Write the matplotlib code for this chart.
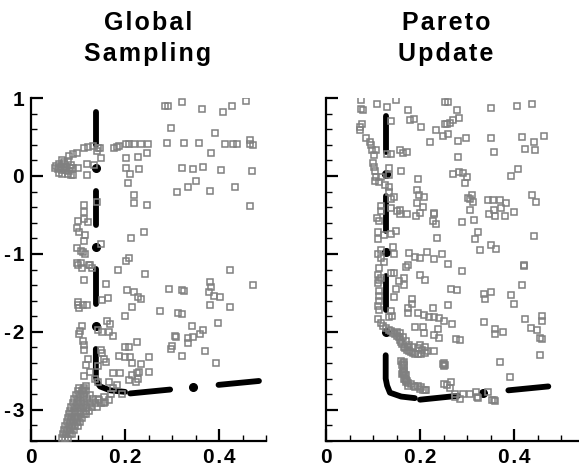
import matplotlib
matplotlib.use("Agg")
import matplotlib.pyplot as plt
from matplotlib.ticker import MultipleLocator, FixedLocator

# ---------------- data ----------------
# Left panel: Global Sampling, gray sampled points
gs_x = [0.112, 0.122, 0.132, 0.142, 0.147, 0.140, 0.149, 0.098, 0.089, 0.080, 0.078, 0.067, 0.071, 0.060, 0.053,
        0.050, 0.057, 0.064, 0.071, 0.074, 0.060, 0.067, 0.078, 0.085, 0.089, 0.082, 0.099, 0.119, 0.133, 0.119,
        0.070, 0.075, 0.065, 0.080, 0.090, 0.060, 0.085,
        0.177, 0.183, 0.188, 0.202, 0.209, 0.220, 0.233, 0.248, 0.247, 0.202, 0.227, 0.202, 0.230, 0.211, 0.206,
        0.220, 0.220, 0.247, 0.112, 0.112, 0.112, 0.099, 0.122, 0.140, 0.098, 0.103, 0.115, 0.113, 0.213, 0.241,
        0.148, 0.098, 0.106, 0.110, 0.115, 0.098, 0.106, 0.126, 0.202, 0.209,
        0.285, 0.292, 0.322, 0.364, 0.409, 0.427, 0.457, 0.297, 0.392, 0.290, 0.326, 0.358, 0.413, 0.429, 0.439,
        0.465, 0.465, 0.473, 0.383, 0.322, 0.344, 0.367, 0.405, 0.470, 0.351, 0.333, 0.311, 0.380, 0.434, 0.467,
        0.099, 0.108, 0.124, 0.129, 0.113, 0.186, 0.160, 0.243, 0.204, 0.220, 0.228, 0.234, 0.215, 0.101, 0.101,
        0.103, 0.110, 0.119, 0.150, 0.163, 0.199, 0.162, 0.168, 0.109, 0.105, 0.103, 0.142, 0.150, 0.165, 0.174,
        0.111, 0.113, 0.113, 0.149, 0.151, 0.199, 0.209, 0.226, 0.188, 0.199, 0.211, 0.250, 0.122, 0.155, 0.160,
        0.117, 0.142, 0.214, 0.234, 0.126, 0.113, 0.174, 0.190, 0.215, 0.226, 0.230, 0.250, 0.137, 0.142, 0.165,
        0.209, 0.223, 0.227, 0.116, 0.110, 0.175, 0.183, 0.193,
        0.066, 0.072, 0.078, 0.068, 0.075, 0.082, 0.088, 0.071, 0.077, 0.084, 0.091, 0.073, 0.080, 0.087, 0.094,
        0.099, 0.076, 0.083, 0.090, 0.097, 0.104, 0.078, 0.086, 0.093, 0.100, 0.108, 0.081, 0.088, 0.096, 0.104,
        0.112, 0.118, 0.083, 0.091, 0.099, 0.107, 0.116, 0.124, 0.086, 0.094, 0.103, 0.111, 0.120, 0.130, 0.140,
        0.089, 0.097, 0.106, 0.115, 0.125, 0.136, 0.148, 0.155, 0.092, 0.100, 0.110, 0.120, 0.131, 0.142, 0.095,
        0.104, 0.113, 0.125, 0.099, 0.108, 0.118, 0.102, 0.112, 0.145, 0.158, 0.165, 0.155, 0.170,
        0.423, 0.294, 0.321, 0.326, 0.381, 0.382, 0.378, 0.389, 0.403, 0.472, 0.275, 0.312, 0.322, 0.380, 0.424,
        0.343, 0.365, 0.360, 0.307, 0.309, 0.335, 0.345, 0.333, 0.301, 0.297, 0.322, 0.370, 0.398, 0.394]
gs_y = [0.361, 0.370, 0.378, 0.361, 0.361, 0.318, 0.232, 0.292, 0.284, 0.262, 0.198, 0.211, 0.181, 0.155, 0.125,
        0.103, 0.090, 0.112, 0.103, 0.082, 0.039, 0.026, 0.026, 0.017, 0.009, 0.103, 0.103, 0.155, 0.138, 0.017,
        0.150, 0.120, 0.080, 0.060, 0.100, 0.100, 0.140,
        0.361, 0.370, 0.378, 0.404, 0.404, 0.404, 0.413, 0.404, 0.297, 0.224, 0.241, 0.103, 0.090, 0.026, -0.090,
        -0.241, -0.353, -0.370, -0.370, -0.465, -0.551, -0.576, -0.585, -0.335, -0.671, -0.714, -0.757, -0.830,
        -0.800, -0.723, -0.877, -0.929, -0.963, -0.981, -1.002, -1.123, -1.114, -1.144, -1.092, -1.058,
        0.899, 0.899, 0.951, 0.865, 0.822, 0.899, 0.963, 0.615, 0.555, 0.422, 0.422, 0.422, 0.404, 0.413, 0.404,
        0.456, 0.404, 0.396, 0.297, 0.108, 0.090, 0.120, 0.077, 0.069, -0.060, -0.138, -0.202, -0.198, -0.146,
        -0.383,
        -1.148, -1.178, -1.148, -1.187, -1.329, -1.209, -1.385, -1.264, -1.467, -1.488, -1.553, -1.583, -1.682,
        -1.617, -1.660, -1.695, -1.652, -1.652, -1.595, -1.566, -1.794, -1.867, -1.901, -1.931, -1.987, -2.026,
        -1.974, -1.996, -1.996, -2.047, -2.116, -2.168, -2.232, -2.232, -2.275, -2.189, -2.198, -2.125, -2.310,
        -2.318, -2.323, -2.323, -2.348, -2.353, -2.383, -2.426, -2.434, -2.404, -2.413, -2.520, -2.568, -2.533,
        -2.533, -2.555, -2.533, -2.512, -2.512, -2.606, -2.641, -2.641, -2.619, -2.641, -2.611, -2.693, -2.748,
        -2.714, -2.688, -2.800,
        -3.36, -3.36, -3.36, -3.31, -3.31, -3.31, -3.31, -3.26, -3.26, -3.26, -3.26, -3.21, -3.21, -3.21, -3.21,
        -3.21, -3.16, -3.16, -3.16, -3.16, -3.16, -3.11, -3.11, -3.11, -3.11, -3.11, -3.06, -3.06, -3.06, -3.06,
        -3.06, -3.06, -3.01, -3.01, -3.01, -3.01, -3.01, -3.01, -2.96, -2.96, -2.96, -2.96, -2.96, -2.96, -2.96,
        -2.91, -2.91, -2.91, -2.91, -2.91, -2.91, -2.91, -2.91, -2.86, -2.86, -2.86, -2.86, -2.86, -2.86, -2.81,
        -2.81, -2.81, -2.81, -2.76, -2.76, -2.76, -2.72, -2.72, -2.88, -2.90, -2.87, -2.84, -2.80,
        -1.209, -1.449, -1.462, -1.471, -1.359, -1.424, -1.488, -1.535, -1.553, -1.394, -1.738, -1.763, -1.772,
        -1.652, -1.677, -1.923, -1.970, -2.026, -2.052, -2.065, -2.077, -2.069, -2.146, -2.181, -2.215, -2.305,
        -2.245, -1.892, -2.404]

# Left panel Pareto front (black): segments and isolated points
gs_front_segs_x = [[0.138, 0.138], [0.138, 0.138], [0.138, 0.138],
                   [0.138, 0.138, 0.140, 0.147, 0.168, 0.200], [0.211, 0.296], [0.399, 0.485]]
gs_front_segs_y = [[0.82, 0.40], [-0.19, -0.63], [-1.19, -1.64],
                   [-2.22, -2.56, -2.64, -2.70, -2.75, -2.77], [-2.79, -2.74], [-2.68, -2.63]]
gs_front_dots_x = [0.138, 0.138, 0.138, 0.345]
gs_front_dots_y = [0.10, -0.91, -1.93, -2.71]

# Right panel: Pareto Update, gray points
pu_x = [0.074, 0.109, 0.130, 0.148, 0.074, 0.078, 0.174, 0.138, 0.179, 0.188, 0.203, 0.234, 0.248, 0.253, 0.254,
        0.077, 0.072, 0.072, 0.085, 0.094, 0.096, 0.098, 0.106, 0.102, 0.130, 0.138, 0.157, 0.163, 0.172, 0.221,
        0.099, 0.103, 0.104, 0.106, 0.104, 0.113, 0.117, 0.135, 0.133, 0.160, 0.126, 0.135, 0.133, 0.144, 0.138,
        0.117, 0.117, 0.108, 0.113, 0.139, 0.151, 0.157, 0.157, 0.172, 0.196, 0.193, 0.197, 0.209, 0.194, 0.206,
        0.201, 0.191, 0.230, 0.230, 0.227, 0.233, 0.110, 0.110, 0.124, 0.138, 0.148, 0.236, 0.142, 0.116, 0.110,
        0.145, 0.117, 0.124, 0.177, 0.190, 0.199, 0.215, 0.230, 0.246, 0.174,
        0.259, 0.278, 0.283, 0.271, 0.264, 0.257, 0.260, 0.280, 0.298, 0.351, 0.406, 0.439, 0.350, 0.357, 0.418,
        0.443, 0.464, 0.423, 0.444, 0.280, 0.270, 0.282, 0.292, 0.299, 0.296, 0.394, 0.409, 0.310, 0.303, 0.306,
        0.313, 0.306, 0.315, 0.289, 0.345, 0.356, 0.370, 0.384, 0.372, 0.357, 0.347, 0.360, 0.380, 0.401, 0.439,
        0.447, 0.323, 0.318, 0.328, 0.351, 0.361, 0.443, 0.260, 0.421,
        0.112, 0.110, 0.113, 0.110, 0.117, 0.138, 0.145, 0.170, 0.156, 0.165, 0.165, 0.149, 0.199, 0.211, 0.113,
        0.113, 0.112, 0.110, 0.113, 0.138, 0.145, 0.182, 0.182, 0.174, 0.175, 0.195, 0.208, 0.220, 0.228, 0.230,
        0.241, 0.252, 0.110, 0.117, 0.135, 0.140, 0.190, 0.206, 0.209, 0.230, 0.241, 0.238, 0.174,
        0.122, 0.128, 0.133, 0.138, 0.142, 0.147, 0.151, 0.155, 0.158, 0.160, 0.162, 0.165, 0.168, 0.172, 0.176,
        0.180, 0.185, 0.190, 0.196, 0.203, 0.210, 0.150, 0.157, 0.163, 0.170, 0.177, 0.185, 0.195, 0.205, 0.215,
        0.230, 0.200, 0.210,
        0.160, 0.163, 0.166, 0.161, 0.165, 0.164, 0.162, 0.166, 0.168, 0.163, 0.167, 0.170, 0.172, 0.168, 0.171,
        0.248, 0.251, 0.253, 0.250, 0.252,
        0.174, 0.181, 0.188, 0.195, 0.202, 0.206, 0.213, 0.199, 0.170, 0.167, 0.250, 0.175, 0.190, 0.211,
        0.422, 0.289, 0.266, 0.278, 0.337, 0.350, 0.338, 0.393, 0.418, 0.399, 0.260, 0.269, 0.337, 0.360, 0.360,
        0.377, 0.423, 0.459, 0.459, 0.436, 0.449, 0.455, 0.460, 0.277, 0.285, 0.455, 0.370, 0.392, 0.267, 0.264,
        0.257, 0.292, 0.306, 0.319, 0.323, 0.344, 0.353, 0.360, 0.285, 0.275, 0.274, 0.321, 0.357]
pu_y = [0.976, 0.920, 0.890, 0.976, 0.856, 0.843, 0.847, 0.705, 0.723, 0.731, 0.628, 0.594, 0.508, 0.662, 0.955,
        0.671, 0.628, 0.589, 0.490, 0.434, 0.396, 0.331, 0.331, 0.275, 0.284, 0.288, 0.327, 0.297, 0.305, 0.434,
        0.172, 0.116, 0.060, -0.009, -0.069, -0.077, -0.017, 0.103, 0.009, 0.060, -0.112, -0.146, -0.211, -0.271,
        -0.292, -0.383, -0.447, -0.542, -0.572, -0.413, -0.447, -0.439, -0.482, -0.482, -0.034, -0.176, -0.241,
        -0.271, -0.348, -0.404, -0.477, -0.512, -0.469, -0.490, -0.576, -0.611, -0.723, -0.809, -0.757, -0.748,
        -0.705, -0.800, -0.912, -0.955, -1.002, -1.002, -1.058, -1.101, -0.985, -1.045, -1.058, -0.972, -1.071,
        -1.006, -1.144,
        0.951, 0.843, 0.748, 0.718, 0.675, 0.662, 0.533, 0.447, 0.490, 0.873, 0.899, 0.920, 0.482, 0.310, 0.503,
        0.439, 0.508, 0.340, 0.331, 0.249, 0.026, 0.047, 0.039, -0.017, -0.095, 0.004, 0.086, -0.249, -0.284,
        -0.297, -0.340, -0.443, -0.563, -0.594, -0.310, -0.305, -0.305, -0.353, -0.413, -0.439, -0.486, -0.520,
        -0.520, -0.460, -0.249, -0.331, -0.723, -0.813, -0.951, -0.886, -0.938, -0.770, -1.131, -1.144,
        -1.178, -1.265, -1.329, -1.372, -1.309, -1.243, -1.243, -1.166, -1.342, -1.308, -1.394, -1.445, -1.273,
        -1.329, -1.480, -1.544, -1.609, -1.673, -1.716, -1.738, -1.557, -1.578, -1.643, -1.695, -1.759, -1.759,
        -1.781, -1.811, -1.695, -1.815, -1.824, -1.867, -1.832, -1.888, -1.815, -1.802, -1.944, -1.944, -2.017,
        -2.039, -2.073, -1.966, -2.189,
        -1.93, -1.95, -1.97, -1.99, -2.01, -2.03, -2.05, -2.07, -2.10, -2.13, -2.16, -2.19, -2.21, -2.23, -2.25,
        -2.26, -2.27, -2.28, -2.28, -2.29, -2.27, -2.00, -2.02, -2.06, -2.12, -2.17, -2.20, -2.21, -2.23, -2.24,
        -2.24, -2.17, -2.19,
        -2.38, -2.40, -2.42, -2.43, -2.39, -2.52, -2.54, -2.51, -2.55, -2.53, -2.61, -2.62, -2.63, -2.60, -2.64,
        -2.41, -2.43, -2.42, -2.44, -2.40,
        -2.662, -2.675, -2.692, -2.697, -2.705, -2.748, -2.748, -2.735, -2.555, -2.490, -2.675, -2.70, -2.71, -2.74,
        -1.157, -1.222, -1.445, -1.462, -1.514, -1.488, -1.574, -1.531, -1.393, -1.643, -1.652, -1.901, -1.871,
        -1.957, -2.026, -2.004, -1.837, -1.802, -1.867, -1.952, -1.978, -2.073, -2.095, -2.095, -2.104, -2.297,
        -2.387, -2.585, -2.649, -2.718, -2.684, -2.791, -2.791, -2.770, -2.847, -2.770, -2.877, -2.882, -2.856,
        -2.834, -2.80, -2.83, -2.88]

pu_front_segs_x = [[0.127, 0.127], [0.127, 0.127], [0.127, 0.127],
                   [0.127, 0.127, 0.130, 0.136, 0.160, 0.189], [0.200, 0.281], [0.388, 0.473]]
pu_front_segs_y = [[0.77, 0.31], [-0.26, -0.70], [-1.28, -1.72],
                   [-2.30, -2.60, -2.69, -2.78, -2.83, -2.85], [-2.87, -2.82], [-2.75, -2.70]]
pu_front_dots_x = [0.127, 0.127, 0.127, 0.335]
pu_front_dots_y = [0.03, -0.98, -2.00, -2.78]

x_major = [0, 0.2, 0.4]
x_major_labels = ["0", "0.2", "0.4"]
y_major = [1, 0, -1, -2, -3]
y_major_labels = ["1", "0", "-1", "-2", "-3"]
titles = [("Global", "Sampling"), ("Pareto", "Update")]

# ---------------- figure ----------------
W, H = 579, 468
fig = plt.figure(figsize=(W / 100, H / 100), dpi=100)
FAM = ["Liberation Sans", "DejaVu Sans"]
HS = "\u200a"


def spaced(s):
    return HS.join(list(s))


GRAY = "#808080"


def style_axes(ax, show_ylabels):
    for s in ["top", "right"]:
        ax.spines[s].set_visible(False)
    for s in ["left", "bottom"]:
        ax.spines[s].set_linewidth(1.6)
    ax.xaxis.set_major_locator(FixedLocator(x_major))
    ax.xaxis.set_minor_locator(MultipleLocator(0.05))
    ax.yaxis.set_major_locator(FixedLocator(y_major))
    ax.yaxis.set_minor_locator(MultipleLocator(0.2))
    ax.tick_params(which="major", direction="in", length=8.5, width=1.6, pad=5)
    ax.tick_params(which="minor", direction="in", length=4.5, width=1.0)
    ax.set_xticklabels([spaced(t) for t in x_major_labels], fontsize=15,
                       fontweight="bold", family=FAM)
    if show_ylabels:
        ax.set_yticklabels([spaced(t) for t in y_major_labels], fontsize=15,
                           fontweight="bold", family=FAM)
    else:
        ax.set_yticklabels([])


def draw_panel(ax, px, py, sx, sy, dx, dy):
    for xs, ys in zip(sx, sy):
        ax.plot(xs, ys, color="black", lw=4.2, solid_capstyle="round",
                solid_joinstyle="round", zorder=2)
    ax.plot(dx, dy, "o", color="black", ms=5.5, zorder=2)
    ax.plot(px, py, "s", ms=4.3, mfc="none", mec=GRAY, mew=1.1, ls="none",
            zorder=3)


axL = fig.add_axes([31 / W, 1 - 441 / H, 235 / W, 343 / H])
axL.set_xlim(0, 0.5)
axL.set_ylim(-3.4, 1.0)
draw_panel(axL, gs_x, gs_y, gs_front_segs_x, gs_front_segs_y,
           gs_front_dots_x, gs_front_dots_y)
style_axes(axL, True)

axR = fig.add_axes([326 / W, 1 - 441 / H, 258.5 / W, 343 / H])
axR.set_xlim(0, 0.55)
axR.set_ylim(-3.4, 1.0)
draw_panel(axR, pu_x, pu_y, pu_front_segs_x, pu_front_segs_y,
           pu_front_dots_x, pu_front_dots_y)
style_axes(axR, False)

for cx, (l1, l2) in zip([148 / W, 446 / W], titles):
    fig.text(cx, 1 - 30 / H, spaced(l1), ha="center", va="baseline",
             fontsize=18, fontweight="bold", family=FAM)
    fig.text(cx, 1 - 61 / H, spaced(l2), ha="center", va="baseline",
             fontsize=18, fontweight="bold", family=FAM)

fig.savefig("out.png", dpi=100)
